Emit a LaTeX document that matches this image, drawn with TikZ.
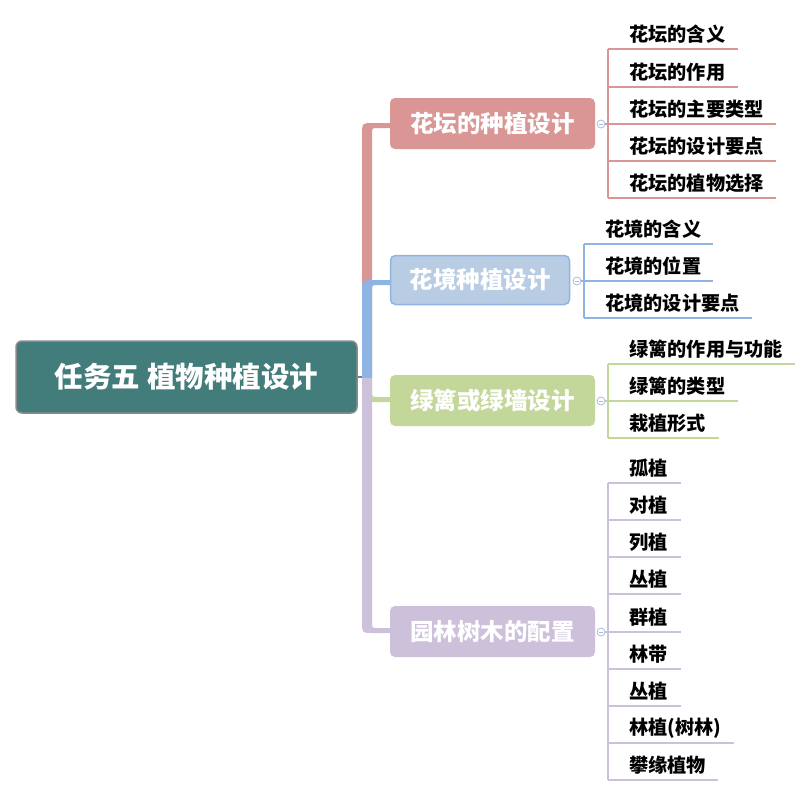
\documentclass[tikz,border=0pt]{standalone}
\usepackage{fontspec}
\setmainfont{Noto Sans CJK SC}
\definecolor{rootc}{HTML}{427D7C}
\definecolor{redc}{HTML}{DA9694}
\definecolor{bluef}{HTML}{B8CCE4}
\definecolor{bluel}{HTML}{8DB4E2}
\definecolor{greenc}{HTML}{C4D79B}
\definecolor{purc}{HTML}{CCC0DA}
\definecolor{circc}{HTML}{A9BCE0}
\begin{document}
\begin{tikzpicture}[x=1pt,y=-1pt,
  rootbox/.style={draw=gray!90,line width=1.5pt,fill=rootc,rounded corners=6pt,text=white,
    font=\fontsize{28.5}{32}\selectfont\bfseries,minimum width=341pt,minimum height=72pt,inner sep=0pt},
  mainbox/.style={rounded corners=5pt,text=white,font=\fontsize{23.5}{27}\selectfont\bfseries,
    minimum height=51pt,inner sep=0pt},
  subtxt/.style={anchor=west,inner sep=0pt,font=\fontsize{19.2}{22}\selectfont\bfseries,text=black},
  uline/.style={line width=1.5pt},
  collapse/.style={circle,draw=circc,fill=white,line width=0.8pt,minimum size=8pt,inner sep=0pt}
]
\useasboundingbox (0,0) rectangle (812,796);

% branch bands
\fill[redc] (362,378) -- (362,135) .. controls (362,123) .. (374,123) -- (391,123) -- (391,128) -- (378,128) .. controls (372,128) .. (372,134) -- (372,378) -- cycle;
\fill[bluel] (362,378) -- (362,292) .. controls (362,280) .. (374,280) -- (391,280) -- (391,285) -- (378,285) .. controls (372,285) .. (372,291) -- (372,378) -- cycle;
\fill[greenc] (362,378) -- (362,390) .. controls (362,402) .. (374,402) -- (391,402) -- (391,397) -- (378,397) .. controls (372,397) .. (372,391) -- (372,378) -- cycle;
\fill[purc] (362,378) -- (362,621) .. controls (362,633) .. (374,633) -- (391,633) -- (391,628) -- (378,628) .. controls (372,628) .. (372,622) -- (372,378) -- cycle;

% root
\node[rootbox] (root) at (186.5,377) {任务五 植物种植设计};
\draw[gray,line width=1.5pt] (root.east) -- (362,377);

% main topics
\node[mainbox,fill=redc,minimum width=205pt] (t1) at (492.5,123.5) {花坛的种植设计};
\node[mainbox,fill=bluef,draw=bluel,line width=1.5pt,minimum width=179pt,minimum height=49pt] (t2) at (480,280) {花境种植设计};
\node[mainbox,fill=greenc,minimum width=205pt] (t3) at (492.5,400.5) {绿篱或绿墙设计};
\node[mainbox,fill=purc,minimum width=205pt] (t4) at (492.5,631.5) {园林树木的配置};

% collapse markers
\node[collapse] (c1) at (601,124) {};
\node[collapse] (c2) at (577,281) {};
\node[collapse] (c3) at (601,401) {};
\node[collapse] (c4) at (601,632) {};
\foreach \c in {c1,c2,c3,c4}{\draw[circc,line width=0.8pt] ([xshift=-2.2pt]\c.center) -- ([xshift=2.2pt]\c.center);}

% red subtopics
\draw[redc,uline] (c1.east) -- (608,124);
\draw[redc,uline] (608,49) -- (608,198);
\foreach \y/\t/\e [count=\i] in {49/花坛的含义/738,87/花坛的作用/738,124/花坛的主要类型/776,161/花坛的设计要点/776,198/花坛的植物选择/776}{
  \node[subtxt] (r\i) at (629,\y-14.5) {\t};
  \draw[redc,uline] (608,\y) -- (\e,\y);
}

% blue subtopics
\draw[bluel,uline] (c2.east) -- (584,281);
\draw[bluel,uline] (584,244) -- (584,318);
\foreach \y/\t/\e [count=\i] in {244/花境的含义/713,281/花境的位置/713,318/花境的设计要点/752}{
  \node[subtxt] (b\i) at (605,\y-14.5) {\t};
  \draw[bluel,uline] (584,\y) -- (\e,\y);
}

% green subtopics
\draw[greenc,uline] (c3.east) -- (608,401);
\draw[greenc,uline] (608,364) -- (608,438);
\foreach \y/\t/\e [count=\i] in {364/绿篱的作用与功能/795,401/绿篱的类型/738,438/栽植形式/719}{
  \node[subtxt] (g\i) at (629,\y-14.5) {\t};
  \draw[greenc,uline] (608,\y) -- (\e,\y);
}

% purple subtopics
\draw[purc,uline] (c4.east) -- (608,632);
\draw[purc,uline] (608,483) -- (608,780);
\foreach \y/\t/\e [count=\i] in {483/孤植/681,520/对植/681,557/列植/681,594/丛植/681,632/群植/681,669/林带/681,706/丛植/681,743/林植(树林)/734,780/攀缘植物/718}{
  \node[subtxt] (p\i) at (629,\y-14.5) {\t};
  \draw[purc,uline] (608,\y) -- (\e,\y);
}
\end{tikzpicture}
\end{document}
